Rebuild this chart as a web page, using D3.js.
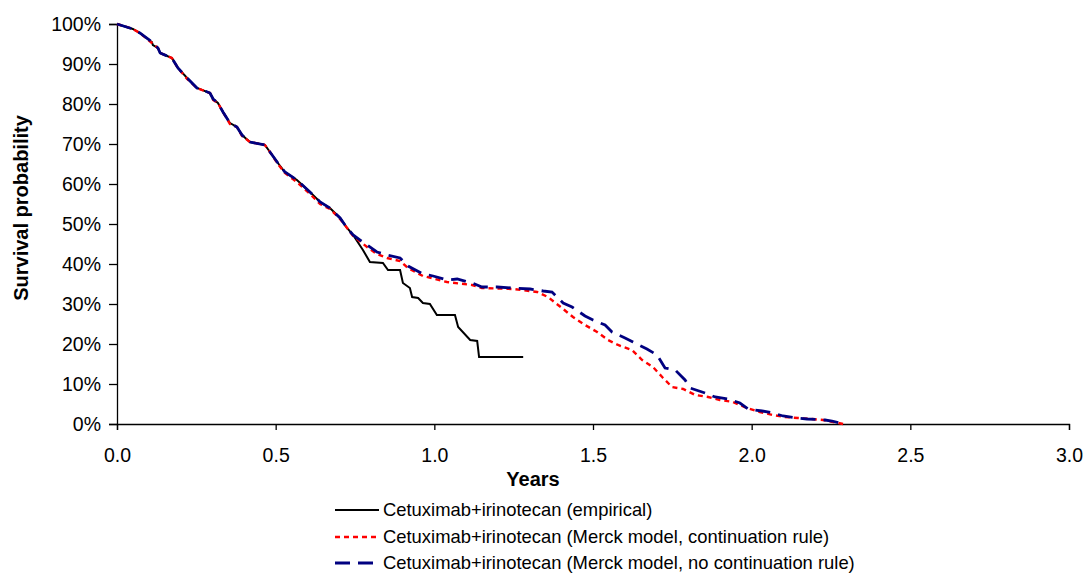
<!DOCTYPE html>
<html lang="en">
<head>
    <meta charset="UTF-8"/>
    <title>Survival curves</title>
    <script src="https://d3js.org/d3.v7.min.js"></script>
    <style>
        body { margin: 0; background: white; }
        text { font-family: "Liberation Sans", Arial, sans-serif; }
    </style>
</head>
<body>
<script>
    // years / survival (%)
    var empYears = [0, 0.050, 0.072, 0.110, 0.113, 0.129, 0.136, 0.173, 0.192, 0.221, 0.252, 0.293, 0.303, 0.318, 0.334, 0.356, 0.378, 0.394, 0.419, 0.466, 0.482, 0.507, 0.529, 0.567, 0.608, 0.640, 0.671, 0.703, 0.725, 0.744, 0.775, 0.797, 0.838, 0.854, 0.892, 0.901, 0.923, 0.930, 0.949, 0.964, 0.986, 1.008, 1.065, 1.075, 1.113, 1.135, 1.141, 1.280];
    var empSurv  = [100, 98.75, 97.75, 95.5, 94.75, 94, 92.75, 91.5, 89, 86.5, 84, 82.75, 81.25, 80.25, 78, 75.25, 74.25, 72.25, 70.5, 69.75, 68, 65.25, 63, 61, 58, 55.5, 54, 51.5, 49, 47.25, 43.5, 40.5, 40.25, 38.5, 38.5, 35.25, 34, 31.75, 31.5, 30.25, 30, 27.25, 27.25, 24.25, 21, 20.75, 16.75, 16.75];

    var contYears = [0, 0.050, 0.072, 0.110, 0.129, 0.136, 0.173, 0.192, 0.221, 0.252, 0.293, 0.303, 0.318, 0.334, 0.356, 0.378, 0.394, 0.419, 0.466, 0.482, 0.507, 0.529, 0.567, 0.608, 0.640, 0.671, 0.703, 0.725, 0.744, 0.788, 0.819, 0.851, 0.892, 0.917, 0.964, 1.040, 1.119, 1.150, 1.248, 1.324, 1.358, 1.402, 1.437, 1.475, 1.513, 1.547, 1.579, 1.623, 1.655, 1.689, 1.718, 1.749, 1.784, 1.822, 1.863, 1.900, 1.941, 1.985, 2.026, 2.067, 2.105, 2.146, 2.190, 2.225, 2.273, 2.288];
    var contSurv  = [100, 98.75, 97.75, 95.25, 94, 92.75, 91.5, 89, 86.25, 84, 82.75, 81, 80.25, 78, 75, 74.25, 72, 70.5, 69.75, 68, 65, 62.75, 60.5, 57.5, 55, 53.75, 51.25, 49, 47, 44.25, 42.5, 41.5, 40.75, 39, 37, 35.5, 34.75, 34, 33.75, 33, 31.75, 29, 26.75, 24.75, 23, 21, 19.75, 18.5, 16, 14.25, 11.75, 9.25, 8.75, 7.25, 6.75, 6, 5.5, 4, 3, 2.25, 1.75, 1.5, 1.25, 1, 0.25, 0];

    var noContYears = [0, 0.050, 0.072, 0.110, 0.129, 0.136, 0.173, 0.192, 0.221, 0.252, 0.293, 0.303, 0.318, 0.334, 0.356, 0.378, 0.394, 0.419, 0.466, 0.482, 0.507, 0.529, 0.567, 0.608, 0.640, 0.671, 0.703, 0.725, 0.744, 0.788, 0.819, 0.851, 0.892, 0.917, 0.964, 0.996, 1.040, 1.072, 1.119, 1.150, 1.198, 1.302, 1.343, 1.371, 1.406, 1.434, 1.475, 1.500, 1.538, 1.560, 1.601, 1.626, 1.670, 1.702, 1.727, 1.759, 1.790, 1.806, 1.853, 1.885, 1.926, 1.963, 1.989, 2.033, 2.067, 2.099, 2.143, 2.175, 2.231, 2.253, 2.288];
    var noContSurv  = [100, 98.75, 97.75, 95.5, 94, 92.75, 91.5, 89, 86.5, 84, 82.75, 81.25, 80.25, 78, 75.25, 74.25, 72.25, 70.5, 69.75, 68, 65.25, 63, 61, 58, 55.5, 54, 51.5, 49, 47.25, 44.75, 43, 42.25, 41.5, 39.5, 37.5, 37, 36, 36.25, 35.25, 34.25, 34.25, 33.75, 33.25, 33, 30.25, 29.25, 27, 26, 24.75, 23, 21.5, 20.5, 18.75, 17.25, 14, 13.5, 11, 9, 7.75, 6.75, 6.25, 5.25, 3.75, 3.25, 2.75, 2, 1.5, 1.25, 1, 0.75, 0];

    var xTicks = [0, 0.5, 1.0, 1.5, 2.0, 2.5, 3.0];
    var yTicks = [0, 10, 20, 30, 40, 50, 60, 70, 80, 90, 100];

    var seriesNames = ["Cetuximab+irinotecan (empirical)",
                       "Cetuximab+irinotecan (Merck model, continuation rule)",
                       "Cetuximab+irinotecan (Merck model, no continuation rule)"];

    var w = 1087;
    var h = 575;
    var plotLeft = 117, plotRight = 1069, plotTop = 24, plotBottom = 424;

    var xScale = d3.scaleLinear().domain([0, 3]).range([plotLeft, plotRight]);
    var yScale = d3.scaleLinear().domain([0, 100]).range([plotBottom, plotTop]);

    var svg = d3.select("body")
                .append("svg")
                .attr("width", w)
                .attr("height", h);

    // axes
    var xAxis = d3.axisBottom(xScale)
                  .tickValues(xTicks)
                  .tickSize(6)
                  .tickFormat(d3.format(".1f"));
    var yAxis = d3.axisLeft(yScale)
                  .tickValues(yTicks)
                  .tickSize(8)
                  .tickFormat(function(d) { return d + "%"; });

    var gx = svg.append("g")
                .attr("transform", "translate(0," + plotBottom + ")")
                .call(xAxis);
    var gy = svg.append("g")
                .attr("transform", "translate(" + plotLeft + ",0)")
                .call(yAxis);

    [gx, gy].forEach(function(g) {
        g.select(".domain").attr("stroke", "black").attr("stroke-width", 1.3);
        g.selectAll(".tick line").attr("stroke", "black").attr("stroke-width", 1.3);
        g.selectAll(".tick text")
         .attr("font-size", "19.5px")
         .attr("fill", "black")
         .style("font-family", "'Liberation Sans', Arial, sans-serif");
    });
    gx.selectAll(".tick text").attr("y", 38).attr("dy", 0);
    gy.selectAll(".tick text").attr("x", -16).attr("dy", "0.35em");

    // axis titles
    svg.append("text")
       .attr("x", 533)
       .attr("y", 486)
       .attr("text-anchor", "middle")
       .attr("font-size", "20px")
       .attr("font-weight", "bold")
       .text("Years");

    svg.append("text")
       .attr("transform", "translate(28,208) rotate(-90)")
       .attr("text-anchor", "middle")
       .attr("font-size", "20px")
       .attr("font-weight", "bold")
       .text("Survival probability");

    // curves
    var series = [
        { x: empYears, y: empSurv, color: "black", width: 2, dash: null },
        { x: contYears, y: contSurv, color: "#ff0000", width: 2.4, dash: "5,4" },
        { x: noContYears, y: noContSurv, color: "#000080", width: 2.8, dash: "15,8" }
    ];

    var line = d3.line()
                 .x(function(d) { return xScale(d[0]); })
                 .y(function(d) { return yScale(d[1]); });

    // empirical first, then red, then blue on top
    series.forEach(function(s) {
        var pts = s.x.map(function(t, i) { return [t, s.y[i]]; });
        svg.append("path")
           .datum(pts)
           .attr("d", line)
           .attr("fill", "none")
           .attr("stroke", s.color)
           .attr("stroke-width", s.width)
           .attr("stroke-dasharray", s.dash);
    });

    // legend
    var legend = svg.append("g");
    var legendY = [510, 537, 563];
    series.forEach(function(s, i) {
        legend.append("line")
              .attr("x1", 335)
              .attr("x2", 379)
              .attr("y1", legendY[i])
              .attr("y2", legendY[i])
              .attr("stroke", s.color)
              .attr("stroke-width", s.width)
              .attr("stroke-dasharray", s.dash);
        legend.append("text")
              .attr("x", 383)
              .attr("y", legendY[i])
              .attr("dy", "0.35em")
              .attr("font-size", "18.4px")
              .text(seriesNames[i]);
    });
</script>
</body>
</html>
